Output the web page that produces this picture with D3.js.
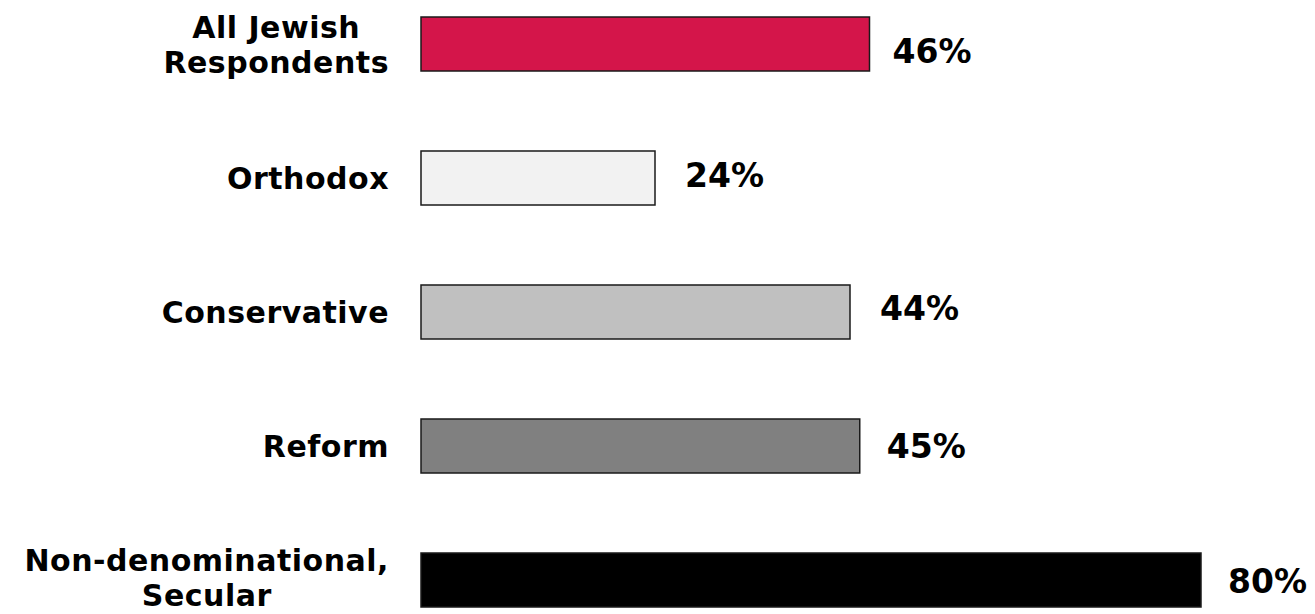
<!DOCTYPE html>
<html>
<head>
<meta charset="utf-8">
<script src="https://cdn.jsdelivr.net/npm/d3@7"></script>
<style>
  html, body { margin: 0; padding: 0; background: #fff; }
  svg { display: block; }
  text { font-family: "DejaVu Sans", Verdana, sans-serif; font-weight: bold; fill: #000; }
</style>
</head>
<body>
<svg id="chart" width="1315" height="614"></svg>
<script>
const categories = [
  ["All Jewish", "Respondents"],
  ["Orthodox"],
  ["Conservative"],
  ["Reform"],
  ["Non-denominational,", "Secular"]
];
const values = [46, 24, 44, 45, 80];
const colors = ["#D4154A", "#F2F2F2", "#C0C0C0", "#808080", "#000000"];

const W = 1315, H = 614;
const svg = d3.select("#chart");
const keys = categories.map(c => c.join(" "));

const x = d3.scaleLinear().domain([0, 80]).range([421, 1201]);
const y = d3.scaleBand().domain(keys).range([17, 607]).paddingInner(0.597).paddingOuter(0);

const catFont = 30;
const valFont = 33;
const lineH = 35;
const valNudge = [7, -3, -4, 0, 1];   // small vertical label offsets (layout)
const valGap = [23, 30, 30, 27, 27];  // gap between bar end and label (layout)

// bars
svg.selectAll("rect.bar")
  .data(values)
  .enter().append("rect")
  .attr("class", "bar")
  .attr("x", x(0))
  .attr("y", (d, i) => y(keys[i]))
  .attr("width", d => x(d) - x(0))
  .attr("height", y.bandwidth())
  .attr("fill", (d, i) => colors[i])
  .attr("stroke", "#1a1a1a")
  .attr("stroke-width", 1.5);

// value labels
svg.selectAll("text.val")
  .data(values)
  .enter().append("text")
  .attr("class", "val")
  .attr("x", (d, i) => x(d) + valGap[i])
  .attr("y", (d, i) => y(keys[i]) + y.bandwidth() / 2 + valNudge[i])
  .attr("dy", "0.36em")
  .style("font-size", valFont + "px")
  .text(d => d + "%");

// category labels
const rightX = 389;
categories.forEach((lines, i) => {
  const cy = y(keys[i]) + y.bandwidth() / 2;
  const g = svg.append("text")
    .attr("text-anchor", "middle")
    .style("font-size", catFont + "px")
    .style("letter-spacing", "0.5px");
  lines.forEach((ln, j) => {
    g.append("tspan")
      .attr("y", cy + (j - (lines.length - 1) / 2) * lineH)
      .attr("dy", "0.38em")
      .text(ln);
  });
  let maxW = 0;
  g.selectAll("tspan").each(function() {
    maxW = Math.max(maxW, this.getComputedTextLength());
  });
  g.selectAll("tspan").attr("x", rightX - maxW / 2);
  // keep the label block inside the picture
  const bb = g.node().getBBox();
  const over = bb.y + bb.height - (H - 1);
  if (over > 0) g.attr("transform", `translate(0,${-over})`);
});
</script>
</body>
</html>
